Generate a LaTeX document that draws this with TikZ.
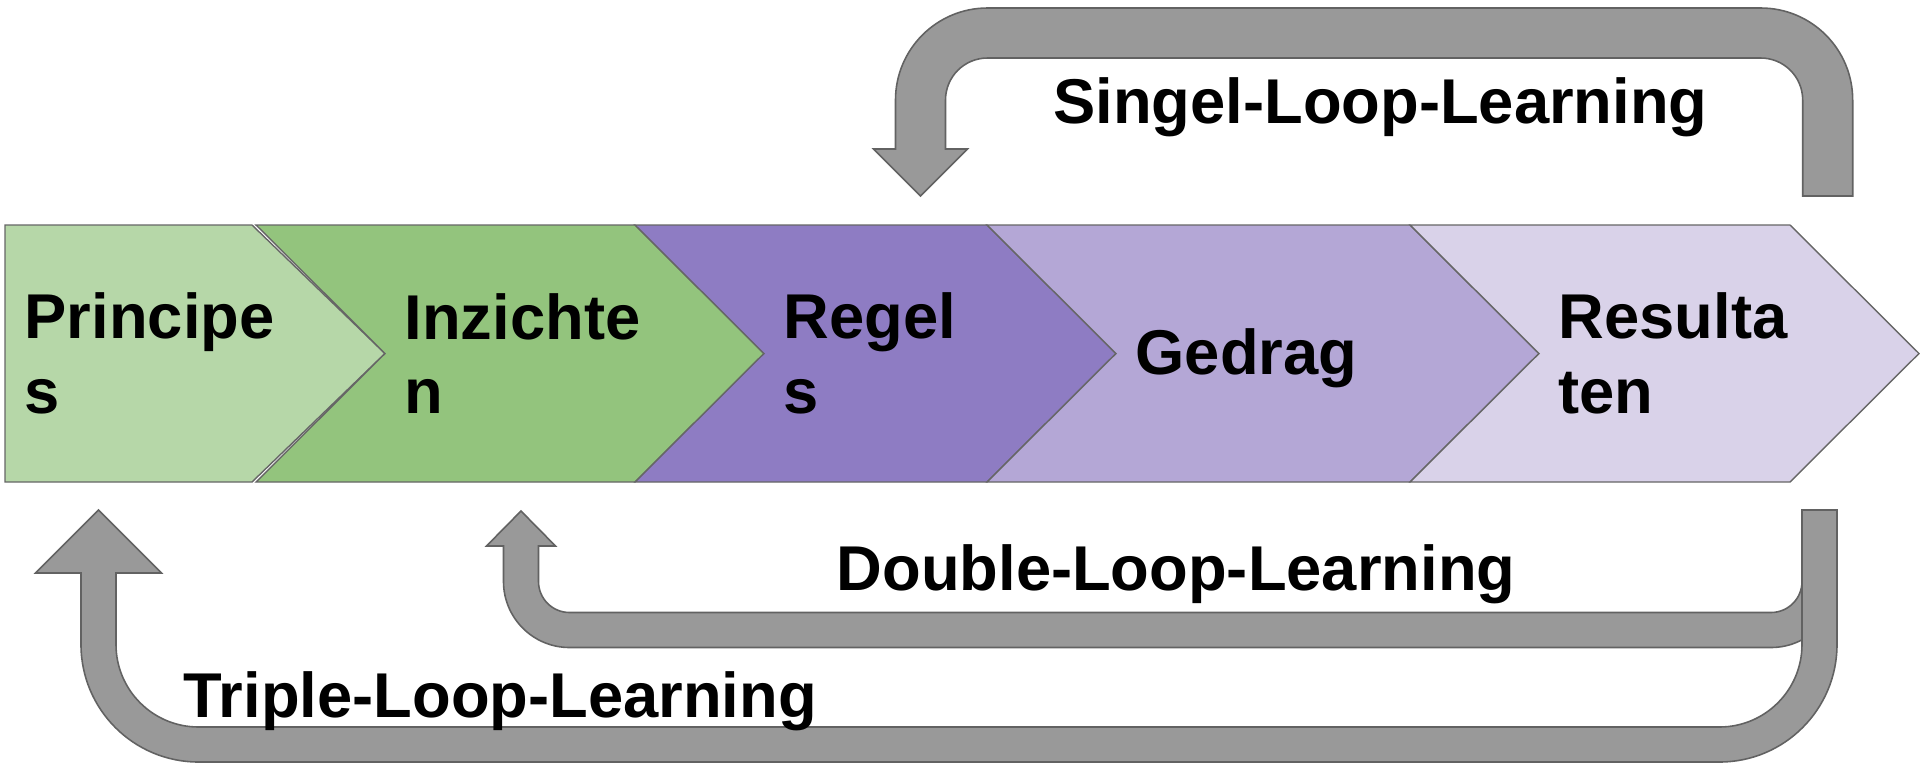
\documentclass[tikz,border=0pt]{standalone}
\usepackage{fontspec}
\setmainfont{Liberation Sans}
\definecolor{principesgreen}{HTML}{B6D7A8}
\definecolor{inzichtengreen}{HTML}{93C47D}
\definecolor{regelspurple}{HTML}{8E7CC3}
\definecolor{gedragpurple}{HTML}{B4A7D6}
\definecolor{resultatenpurple}{HTML}{D9D2E9}
\definecolor{stageline}{HTML}{666666}
\definecolor{loopgrey}{HTML}{999999}
\definecolor{loopline}{HTML}{626262}
\begin{document}
\begin{tikzpicture}[x=0.01cm,y=-0.01cm,
  stage/.style={draw=stageline,line width=0.4pt},
  stagetext/.style={anchor=west,align=left,inner sep=0pt,font=\bfseries\fontsize{18}{21.2}\selectfont},
  looparrow/.style={fill=loopgrey,draw=loopline,line width=0.45pt},
  looplabel/.style={inner sep=0pt,font=\bfseries\fontsize{18}{21.2}\selectfont}]
\useasboundingbox (0,0) rectangle (1920,763);
% stages
\draw[stage,fill=principesgreen] (5,225) -- (252,225) -- (385,353.5) -- (252,482) -- (5,482) -- cycle;
\draw[stage,fill=inzichtengreen] (256,225) -- (635,225) -- (764,353.5) -- (635,482) -- (256,482) -- (385,353.5) -- cycle;
\draw[stage,fill=regelspurple] (635,225) -- (987,225) -- (1116,353.5) -- (987,482) -- (635,482) -- (764,353.5) -- cycle;
\draw[stage,fill=gedragpurple] (987,225) -- (1410,225) -- (1539,353.5) -- (1410,482) -- (987,482) -- (1116,353.5) -- cycle;
\draw[stage,fill=resultatenpurple] (1410,225) -- (1790,225) -- (1919,353.5) -- (1790,482) -- (1410,482) -- (1539,353.5) -- cycle;
\node[stagetext] (principes) at (24,353.5) {Principe\\s};
\node[stagetext] (inzichten) at (404,353.5) {Inzichte\\n};
\node[stagetext] (regels) at (783,353.5) {Regel\\s};
\node[stagetext,anchor=base west] (gedrag) at (1135,374.7) {Gedrag};
\node[stagetext] (resultaten) at (1558,353.5) {Resulta\\ten};
% single loop
\draw[looparrow] (1802.7,196) -- (1802.7,100) arc[start angle=0,end angle=-90,radius=42]
  -- (987.5,58) arc[start angle=-90,end angle=-180,radius=42]
  -- (945.5,149) -- (967.5,149) -- (920.5,196) -- (873.5,149) -- (895.5,149)
  -- (895.5,100) arc[start angle=180,end angle=270,radius=92]
  -- (1760.7,8) arc[start angle=270,end angle=360,radius=92]
  -- (1852.7,196) -- cycle;
% double loop
\draw[looparrow] (1802,510) -- (1802,581.5) arc[start angle=0,end angle=90,radius=31]
  -- (569.5,612.5) arc[start angle=90,end angle=180,radius=31]
  -- (538.5,546) -- (555.5,546) -- (521,511) -- (486.5,546) -- (503.5,546)
  -- (503.5,581.5) arc[start angle=180,end angle=90,radius=66]
  -- (1771,647.5) arc[start angle=90,end angle=0,radius=66]
  -- (1837,510) -- cycle;
% triple loop
\draw[looparrow] (1802,510) -- (1802,644.5) arc[start angle=0,end angle=90,radius=82.5]
  -- (198.5,727) arc[start angle=90,end angle=180,radius=82.5]
  -- (116,573) -- (161.5,573) -- (98.5,510) -- (35.5,573) -- (81,573)
  -- (81,644.5) arc[start angle=180,end angle=90,radius=117.5]
  -- (1719.5,762) arc[start angle=90,end angle=0,radius=117.5]
  -- (1837,510) -- cycle;
\node[looplabel,anchor=base] (singel) at (1380.5,123) {Singel-Loop-Learning};
\node[looplabel,anchor=base] (double) at (1176,590) {Double-Loop-Learning};
\node[looplabel,anchor=base west] (triple) at (183,717) {Triple-Loop-Learning};
\end{tikzpicture}
\end{document}
